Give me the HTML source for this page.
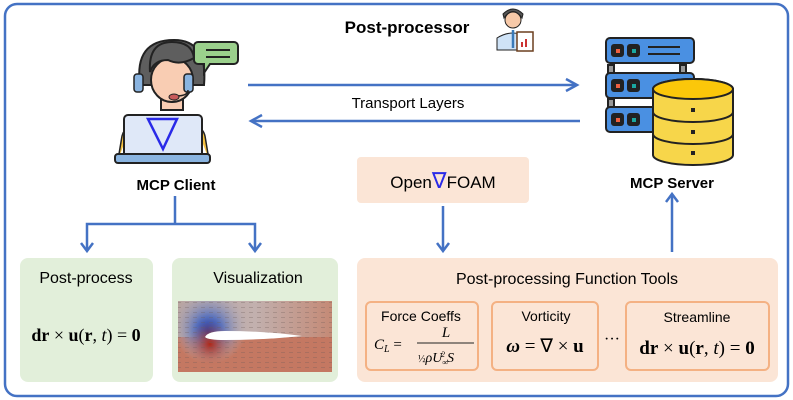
<!DOCTYPE html>
<html><head><meta charset="utf-8"><style>
html,body{margin:0;padding:0;background:#fff}
svg{display:block}
text{font-family:"Liberation Sans",sans-serif}
.m{font-family:"Liberation Serif",serif}
</style></head><body>
<svg width="793" height="400" viewBox="0 0 793 400" xmlns="http://www.w3.org/2000/svg">
<defs>
<radialGradient id="bl" gradientUnits="userSpaceOnUse" cx="210" cy="326" r="38" fx="208" fy="332">
<stop offset="0" stop-color="#1a2f9e"/><stop offset="0.35" stop-color="#5a72bc"/><stop offset="1" stop-color="#b8b0b8" stop-opacity="0"/>
</radialGradient>
<radialGradient id="rd" gradientUnits="userSpaceOnUse" cx="210" cy="344" r="22">
<stop offset="0" stop-color="#b02818"/><stop offset="1" stop-color="#c46a52" stop-opacity="0"/>
</radialGradient>
<linearGradient id="tp" x1="0" y1="0" x2="1" y2="0">
<stop offset="0" stop-color="#b8a4a0"/><stop offset="0.5" stop-color="#c2b0ae"/><stop offset="1" stop-color="#c48a76"/>
</linearGradient>
<pattern id="dots" width="8" height="5" patternUnits="userSpaceOnUse"><line x1="1" y1="2.5" x2="5" y2="2.5" stroke="#6a5a55" stroke-width="0.6" opacity="0.5"/></pattern>
</defs>
<rect x="5" y="4" width="783" height="392" rx="12" fill="#fff" stroke="#4472C4" stroke-width="2.5"/>
<text x="407" y="33" font-size="17" font-weight="bold" text-anchor="middle">Post-processor</text>
<g>
<path d="M497 50 l0 -12 q16 -10 32 0 l0 12z" fill="#cfe3f7" stroke="#222"/>
<circle cx="513" cy="20" r="8" fill="#f7c9a8" stroke="#222" stroke-width="1"/>
<path d="M504 18 q9 -13 18 0 l1 -4 q-10 -10 -20 0z" fill="#555" stroke="#222"/>
<line x1="513" y1="30" x2="513" y2="48" stroke="#3a7ab8" stroke-width="2.5"/>
<rect x="517" y="32" width="16" height="19" fill="#fff" stroke="#6b3f1f" stroke-width="1.5"/>
<rect x="521" y="42" width="2" height="5" fill="#c33"/><rect x="525" y="39" width="2" height="8" fill="#c33"/>
</g>
<g>
<path d="M140 85 q-6 -45 34 -45 q34 0 30 45z" fill="#5e5e5e" stroke="#222" stroke-width="2"/>
<rect x="161" y="96" width="22" height="14" fill="#f9cdb3" stroke="#222" stroke-width="2"/>
<ellipse cx="172" cy="80" rx="21" ry="22" fill="#f9cdb3" stroke="#222" stroke-width="2"/>
<path d="M150 72 q4 -12 18 -12 q12 6 26 -2 q-2 -16 -22 -16 q-24 0 -22 30z" fill="#5e5e5e" stroke="#222" stroke-width="2"/>
<rect x="134" y="74" width="9" height="18" rx="3" fill="#8ab4e0" stroke="#222" stroke-width="1.5"/>
<rect x="184" y="74" width="9" height="18" rx="3" fill="#8ab4e0" stroke="#222" stroke-width="1.5"/>
<path d="M188 90 q0 6 -12 6" fill="none" stroke="#222" stroke-width="1.5"/>
<ellipse cx="174" cy="97" rx="5" ry="3" fill="#c85a5a" stroke="#222"/>
<path d="M118 160 l4 -24 q2 -8 8 -8" fill="#f5c242" stroke="#222" stroke-width="1.5"/>
<path d="M209 160 l-4 -24 q-2 -8 -8 -8" fill="#f5c242" stroke="#222" stroke-width="1.5"/>
<rect x="124" y="115" width="78" height="42" rx="4" fill="#dfe8f8" stroke="#222" stroke-width="2"/>
<rect x="115" y="154" width="95" height="9" rx="3" fill="#8ab4e0" stroke="#222" stroke-width="2"/>
<polygon points="148,119 177,119 163,149" fill="none" stroke="#2a2ae8" stroke-width="2.5"/>
<path d="M198 42 h36 a4 4 0 0 1 4 4 v14 a4 4 0 0 1 -4 4 h-24 l-6 9 v-9 h-6 a4 4 0 0 1 -4 -4 v-14 a4 4 0 0 1 4 -4z" fill="#9bd08c" stroke="#222" stroke-width="2"/>
<line x1="206" y1="50" x2="230" y2="50" stroke="#222" stroke-width="2"/>
<line x1="206" y1="57" x2="230" y2="57" stroke="#222" stroke-width="2"/>
</g>
<text x="176" y="190" font-size="15" font-weight="bold" text-anchor="middle">MCP Client</text>
<g stroke="#222" stroke-width="2">
<rect x="608" y="65" width="6" height="10" fill="#999"/><rect x="680" y="65" width="6" height="10" fill="#999"/>
<rect x="608" y="99" width="6" height="10" fill="#999"/>
<rect x="606" y="38" width="88" height="25" rx="4" fill="#4a90e2"/>
<rect x="606" y="73" width="88" height="25" rx="4" fill="#4a90e2"/>
<rect x="606" y="107" width="88" height="25" rx="4" fill="#4a90e2"/>
<rect x="612" y="45" width="11" height="11" rx="2" fill="#222"/><rect x="628" y="45" width="11" height="11" rx="2" fill="#222"/>
<rect x="612" y="80" width="11" height="11" rx="2" fill="#222"/><rect x="628" y="80" width="11" height="11" rx="2" fill="#222"/>
<rect x="612" y="114" width="11" height="11" rx="2" fill="#222"/><rect x="628" y="114" width="11" height="11" rx="2" fill="#222"/>
<line x1="648" y1="47" x2="680" y2="47"/><line x1="648" y1="54" x2="680" y2="54"/>
<path d="M653 155 v-66 a40 10 0 0 1 80 0 v66 a40 10 0 0 1 -80 0z" fill="#f7d64a"/>
<ellipse cx="693" cy="89" rx="40" ry="10" fill="#fbc70a"/>
<path d="M653 112 a40 10 0 0 0 80 0 M653 134 a40 10 0 0 0 80 0" fill="none"/>
</g>
<g fill="#f06040"><rect x="616" y="49" width="4" height="4"/><rect x="616" y="84" width="4" height="4"/><rect x="616" y="118" width="4" height="4"/></g>
<g fill="#1aa8a0"><rect x="632" y="49" width="4" height="4"/><rect x="632" y="84" width="4" height="4"/><rect x="632" y="118" width="4" height="4"/></g>
<g fill="#222"><rect x="691" y="108" width="4" height="4"/><rect x="691" y="130" width="4" height="4"/><rect x="691" y="151" width="4" height="4"/></g>
<text x="672" y="188" font-size="15" font-weight="bold" text-anchor="middle">MCP Server</text>
<g stroke="#4472C4" stroke-width="2.5" fill="none">
<line x1="248" y1="85" x2="576" y2="85"/>
<polyline points="566,79 577,85 566,91"/>
<line x1="580" y1="121" x2="252" y2="121"/>
<polyline points="262,115 251,121 262,127"/>
<line x1="175" y1="196" x2="175" y2="224"/>
<polyline points="87,250 87,224 255,224 255,250"/>
<polyline points="81,243 87,251 93,243"/>
<polyline points="249,243 255,251 261,243"/>
<line x1="443" y1="206" x2="443" y2="250"/>
<polyline points="437,243 443,251 449,243"/>
<line x1="672" y1="252" x2="672" y2="195"/>
<polyline points="666,202 672,194 678,202"/>
</g>
<text x="408" y="108" font-size="15" text-anchor="middle">Transport Layers</text>
<rect x="357" y="157" width="172" height="46" rx="4" fill="#FBE5D6"/>
<text x="443" y="188" font-size="17" text-anchor="middle"><tspan>Open</tspan><tspan fill="#2a2ae8" font-size="22">∇</tspan><tspan>FOAM</tspan></text>
<rect x="20" y="258" width="133" height="124" rx="8" fill="#E2EFDA"/>
<text x="86" y="283" font-size="16" text-anchor="middle">Post-process</text>
<text x="86" y="341" font-size="18" text-anchor="middle" class="m"><tspan font-weight="bold">dr</tspan> × <tspan font-weight="bold">u</tspan>(<tspan font-weight="bold">r</tspan>, <tspan font-style="italic">t</tspan>) = <tspan font-weight="bold">0</tspan></text>
<rect x="172" y="258" width="166" height="124" rx="8" fill="#E2EFDA"/>
<text x="258" y="283" font-size="16" text-anchor="middle">Visualization</text>
<rect x="178" y="301" width="154" height="71" fill="#c47862"/>
<rect x="178" y="301" width="154" height="36" fill="url(#tp)"/>
<rect x="178" y="301" width="154" height="71" fill="url(#bl)"/>
<rect x="178" y="301" width="154" height="71" fill="url(#rd)"/>
<rect x="178" y="301" width="154" height="71" fill="url(#dots)"/>
<path d="M205 337 q3 -6 20 -6 q40 0 77 5 q-40 4 -77 4 q-17 0 -20 -3z" fill="#fff"/>
<rect x="357" y="258" width="421" height="124" rx="8" fill="#FBE5D6"/>
<text x="567" y="284" font-size="16" text-anchor="middle">Post-processing Function Tools</text>
<g fill="#FBE5D6" stroke="#F4B183" stroke-width="2">
<rect x="366" y="302" width="112" height="68" rx="5"/>
<rect x="492" y="302" width="106" height="68" rx="5"/>
<rect x="626" y="302" width="143" height="68" rx="5"/>
</g>
<text x="421" y="321" font-size="14" text-anchor="middle">Force Coeffs</text>
<text x="546" y="321" font-size="14" text-anchor="middle">Vorticity</text>
<text x="697" y="322" font-size="14" text-anchor="middle">Streamline</text>
<text x="374" y="349" font-size="15" font-style="italic" class="m">C<tspan font-size="10" dy="3">L</tspan><tspan dy="-3" font-style="normal"> =</tspan></text>
<text x="446" y="337" font-size="15" font-style="italic" text-anchor="middle" class="m">L</text>
<line x1="417" y1="343" x2="474" y2="343" stroke="#222" stroke-width="1"/>
<text x="418" y="362" font-size="14" font-style="italic" class="m"><tspan font-style="normal" font-size="10">½</tspan>ρU<tspan font-size="8" dy="3">∞</tspan><tspan font-size="8" dx="-7" dy="-8">2</tspan><tspan dy="5" dx="2">S</tspan></text>
<text x="545" y="352" font-size="19" text-anchor="middle" class="m"><tspan font-weight="bold" font-style="italic">ω</tspan> = ∇ × <tspan font-weight="bold">u</tspan></text>
<text x="612" y="344" font-size="16" text-anchor="middle" class="m">···</text>
<text x="697" y="354" font-size="19" text-anchor="middle" class="m"><tspan font-weight="bold">dr</tspan> × <tspan font-weight="bold">u</tspan>(<tspan font-weight="bold">r</tspan>, <tspan font-style="italic">t</tspan>) = <tspan font-weight="bold">0</tspan></text>
</svg>
</body></html>
